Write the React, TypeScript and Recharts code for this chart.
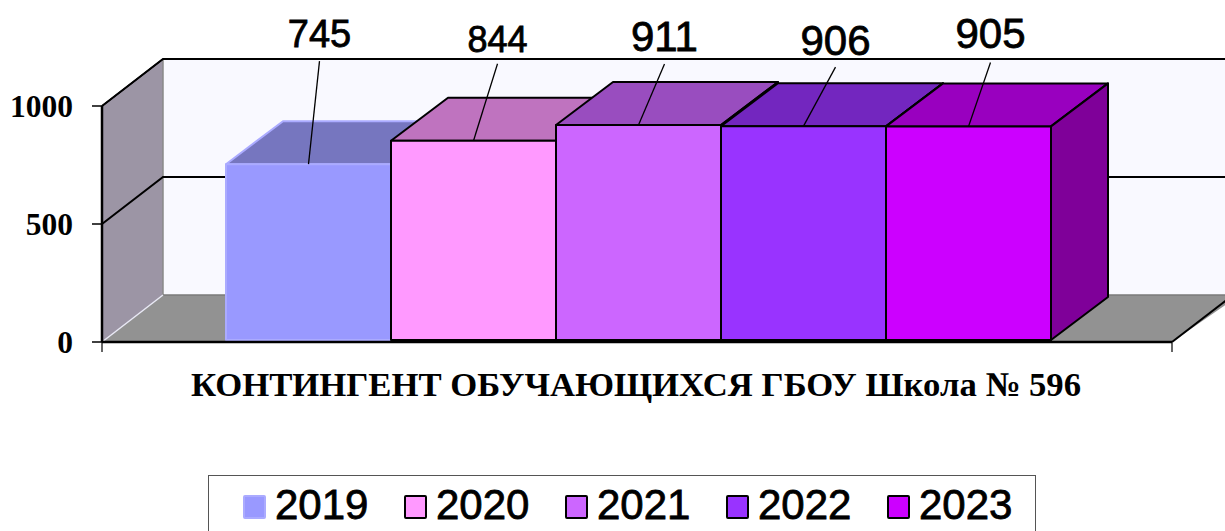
import { BarChart, Bar, XAxis, YAxis, CartesianGrid, Legend, LabelList } from 'recharts';

const CATEGORY = 'КОНТИНГЕНТ ОБУЧАЮЩИХСЯ ГБОУ Школа № 596';
const YEARS = ['2019', '2020', '2021', '2022', '2023'];
const VALUES = [745, 844, 911, 906, 905];
const Y_TICKS = [0, 500, 1000];

const chartData = [
  Object.fromEntries([['name', CATEGORY], ...YEARS.map((y, i) => [y, VALUES[i]])]),
];

// Faces of each box: front, top, side, edge
const FRONT = ['#9999FF', '#FF99FF', '#CC66FF', '#9933FF', '#CC00FF'];
const TOP = ['#7676BF', '#BF73BF', '#994DBF', '#7326BF', '#9900BF'];
const SIDE = ['#66669A', '#99669A', '#7F4099', '#5C1F99', '#7F0099'];
const EDGE = ['#ABABFF', '#000', '#000', '#000', '#000'];

// Data labels were dragged by hand in the original, so each has its own offset
const LABEL_DX = [11, 24, 26, 32, 22];
const LABEL_DY = [103, 77, 61, 59, 64];
const LABEL_SIZE = [38, 36, 42, 42, 42];
const LABEL_GAP = [14, 12, 13, 12, 14];

// 3D depth of the walls and of the boxes
const WALL_DX = 61;
const WALL_DY = 47;
const BOX_DX = 57;
const BOX_DY = 43;
const BOX_LIFT = 2;

const SANS = '"Liberation Sans", Arial, sans-serif';
const SERIF = '"Liberation Serif", "Times New Roman", serif';

function Box3D({ x, y, width, height, i }: any) {
  const top = y - BOX_LIFT;
  const bottom = top + height;
  const right = x + width;
  const edge = { stroke: EDGE[i], strokeWidth: 2, strokeLinejoin: 'round' as const };
  return (
    <g>
      <polygon
        points={`${x},${top} ${x + BOX_DX},${top - BOX_DY} ${right + BOX_DX},${top - BOX_DY} ${right},${top}`}
        fill={TOP[i]}
        {...edge}
      />
      <polygon
        points={`${right},${top} ${right + BOX_DX},${top - BOX_DY} ${right + BOX_DX},${bottom - BOX_DY} ${right},${bottom}`}
        fill={SIDE[i]}
        {...edge}
      />
      <rect x={x} y={top} width={width} height={height} fill={FRONT[i]} {...edge} />
    </g>
  );
}

function ValueLabel({ x, y, width, value, i }: any) {
  const cx = x + width / 2;
  const top = y - BOX_LIFT;
  const endX = cx + LABEL_DX[i];
  const endY = top - LABEL_DY[i];
  return (
    <g>
      <line x1={cx} y1={top} x2={endX} y2={endY} stroke="#000" strokeWidth={1.3} />
      <text
        x={endX}
        y={endY - LABEL_GAP[i]}
        textAnchor="middle"
        fontFamily={SANS}
        fontSize={LABEL_SIZE[i]}
        fill="#000"
        stroke="#000"
        strokeWidth={0.8}
      >
        {value}
      </text>
    </g>
  );
}

function GridLine({ x1, y1 }: any) {
  return (
    <path
      d={`M${x1},${y1} L${x1 + WALL_DX},${y1 - WALL_DY} L1225,${y1 - WALL_DY}`}
      fill="none"
      stroke="#000"
      strokeWidth={2}
    />
  );
}

function CategoryTick({ x, y, payload }: any) {
  return (
    <text
      x={x - 2.5}
      y={y + 52}
      textAnchor="middle"
      fontFamily={SERIF}
      fontWeight="bold"
      fontSize={34.7}
      fill="#000"
    >
      {payload.value}
    </text>
  );
}

function LegendBox({ payload }: any) {
  return (
    <div
      style={{
        display: 'flex',
        boxSizing: 'border-box',
        width: 828,
        height: 80,
        paddingLeft: 34,
        border: '1.5px solid #555',
        background: '#fff',
      }}
    >
      {(payload ?? []).map((item: any, i: number) => (
        <div key={item.value} style={{ width: 161, display: 'flex', alignItems: 'flex-start', flexShrink: 0 }}>
          <span
            style={{
              width: 23,
              height: 24,
              marginTop: 19,
              marginRight: 9,
              boxSizing: 'border-box',
              background: item.color,
              border: `2px solid ${EDGE[i]}`,
              borderRadius: 2,
              flexShrink: 0,
            }}
          />
          <span
            style={{
              fontFamily: SANS,
              fontSize: 42,
              lineHeight: '58px',
              color: '#000',
              WebkitTextStroke: '0.8px #000',
            }}
          >
            {item.value}
          </span>
        </div>
      ))}
    </div>
  );
}

// Walls and floor sit in their own layer under the chart
function Walls() {
  const l = 102, r = 1172, t = 106, b = 342;
  return (
    <svg width={1225} height={531} style={{ position: 'absolute', left: 0, top: 0 }}>
      <polygon
        points={`${l + WALL_DX},${t - WALL_DY} 1240,${t - WALL_DY} 1240,${b - WALL_DY} ${l + WALL_DX},${b - WALL_DY}`}
        fill="#F9F9FF"
      />
      <polygon
        points={`${l},${t} ${l + WALL_DX},${t - WALL_DY} ${l + WALL_DX},${b - WALL_DY} ${l},${b}`}
        fill="#9C95A5"
      />
      <line x1={l + WALL_DX} y1={t - WALL_DY} x2={l + WALL_DX} y2={b - WALL_DY} stroke="#8A8A8A" strokeWidth={1.5} />
      <polygon
        points={`${l},${b} ${l + WALL_DX},${b - WALL_DY} 1240,${b - WALL_DY} ${r},${b}`}
        fill="#929292"
      />
      <line x1={l + WALL_DX} y1={b - WALL_DY} x2={1225} y2={b - WALL_DY} stroke="#7A7A7A" strokeWidth={1.5} />
      <line x1={l} y1={b} x2={l + WALL_DX} y2={b - WALL_DY} stroke="#E8E8F4" strokeWidth={1.5} />
      <line x1={r} y1={b} x2={r + WALL_DX} y2={b - WALL_DY} stroke="#000" strokeWidth={2} />
      <line x1={l} y1={t} x2={l + WALL_DX} y2={t - WALL_DY} stroke="#000" strokeWidth={1.5} />
      <line x1={l} y1={b} x2={l} y2={b + 10} stroke="#333" strokeWidth={1.5} />
      <line x1={r} y1={b} x2={r} y2={b + 10} stroke="#333" strokeWidth={1.5} />
    </svg>
  );
}

export default function App() {
  return (
    <div style={{ position: 'absolute', left: 0, top: 0, width: 1225, height: 531, overflow: 'hidden', background: '#fff' }}>
      <Walls />
      <div style={{ position: 'absolute', left: 0, top: 0 }}>
        <BarChart
          width={1225}
          height={531}
          data={chartData}
          margin={{ top: 106, right: 53, bottom: 0, left: 0 }}
          barCategoryGap={121}
          barGap={0}
        >
          <CartesianGrid vertical={false} horizontalValues={[500, 1000]} horizontal={(p: any) => <GridLine key={p.y1} {...p} />} />
          <XAxis
            dataKey="name"
            height={189}
            padding={{ left: 3, right: 0 }}
            tickLine={false}
            tickSize={0}
            axisLine={{ stroke: '#000', strokeWidth: 2.5 }}
            tick={<CategoryTick />}
          />
          <YAxis
            width={102}
            domain={[0, 1000]}
            ticks={Y_TICKS}
            tickSize={10}
            tickMargin={19}
            tickLine={{ stroke: '#000', strokeWidth: 1.5 }}
            axisLine={{ stroke: '#000', strokeWidth: 2.5 }}
            tick={{ fontFamily: SERIF, fontWeight: 'bold', fontSize: 31.5, fill: '#000' }}
          />
          {YEARS.map((year, i) => (
            <Bar
              key={year}
              dataKey={year}
              name={year}
              fill={FRONT[i]}
              isAnimationActive={false}
              shape={(p: any) => <Box3D {...p} i={i} />}
            >
              <LabelList dataKey={year} content={(p: any) => <ValueLabel {...p} i={i} />} />
            </Bar>
          ))}
          <Legend
            layout="horizontal"
            verticalAlign="middle"
            width={828}
            wrapperStyle={{ left: 208, top: 475, right: 'auto', bottom: 'auto', width: 828 }}
            content={<LegendBox />}
          />
        </BarChart>
      </div>
    </div>
  );
}
